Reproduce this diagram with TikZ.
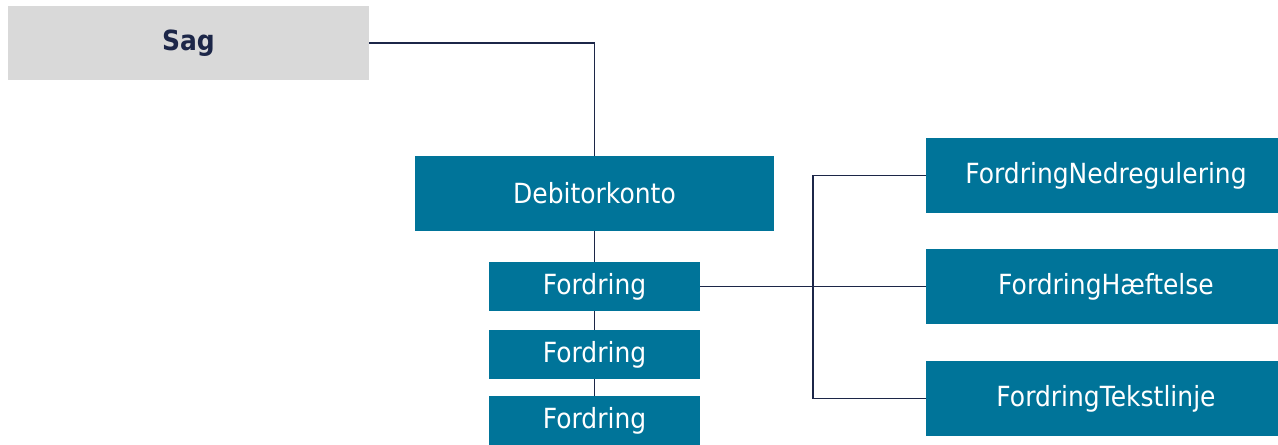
\documentclass[tikz,border=0pt]{standalone}
\usepackage{fontspec}
\setmainfont{DejaVu Sans}[FakeStretch=0.9]
\usepackage{xcolor}
\usepackage{tikz}
\usetikzlibrary{positioning}
\definecolor{mypetrol}{RGB}{0,116,153}
\definecolor{mygrey}{RGB}{217,217,217}
\definecolor{mynavy}{RGB}{28,38,72}
\tikzstyle{box} = [rectangle,inner sep=0pt,text=white,fill=mypetrol,font=\fontsize{15.8}{18}\selectfont]
\tikzstyle{conn} = [mynavy,line width=0.75pt]

\begin{document}
\begin{tikzpicture}[x=0.02cm,y=-0.02cm]
          % basics
          \useasboundingbox (0,0) rectangle (1278,444);
          \node[box,fill=mygrey,text=mynavy,font=\fontsize{15.8}{18}\selectfont\bfseries,minimum width=7.22cm,minimum height=1.48cm] (sag) at (188.5,43) {Sag};
          \node[box,minimum width=7.2cm,minimum height=1.5cm] (debkonto) at (594.5,193.5) {Debitorkonto};
          \node[box,minimum width=4.22cm,minimum height=0.98cm] (ford1) at (594.5,286.5) {Fordring};
          \node[box,minimum width=4.22cm,minimum height=0.98cm] (ford2) at (594.5,354.5) {Fordring};
          \node[box,minimum width=4.22cm,minimum height=0.98cm] (ford3) at (594.5,420.5) {Fordring};
          \node[box,minimum width=7.2cm,minimum height=1.5cm] (nedreg) at (1106,175.5) {FordringNedregulering};
          \node[box,minimum width=7.2cm,minimum height=1.5cm] (haeft) at (1106,286.5) {FordringHæftelse};
          \node[box,minimum width=7.2cm,minimum height=1.5cm] (tekst) at (1106,398.5) {FordringTekstlinje};

          % lines
          \coordinate (split) at (813,286.5);
          \draw[conn] (sag.east) -| (debkonto.north);
          \draw[conn] (debkonto.south) -- (ford1.north);
          \draw[conn] (ford1.south) -- (ford2.north);
          \draw[conn] (ford2.south) -- (ford3.north);
          \draw[conn] (ford1.east) -- (split);
          \draw[conn] (split) |- (nedreg.west);
          \draw[conn] (split) -- (haeft.west);
          \draw[conn] (split) |- (tekst.west);
\end{tikzpicture}
\end{document}
